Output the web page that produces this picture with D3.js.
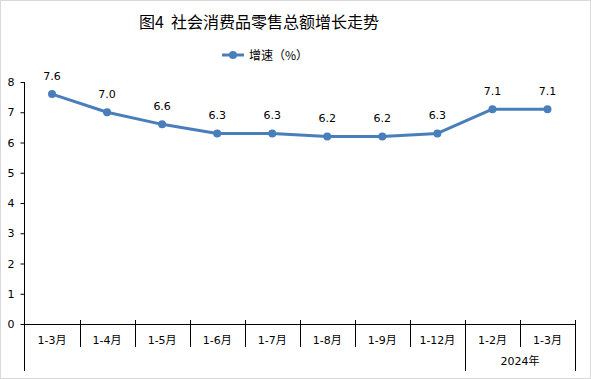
<!DOCTYPE html>
<html>
<head>
<meta charset="utf-8">
<script src="https://cdn.jsdelivr.net/npm/d3@7"></script>
<style>
  body { margin: 0; background: #fff; }
  svg { display: block; }
  text { font-family: "DejaVu Sans", "Noto Sans CJK SC", sans-serif; fill: #000; }
  .cjk { font-family: "Noto Sans CJK SC", sans-serif; }
</style>
</head>
<body>
<svg width="591" height="379"></svg>
<script>
// Chart data
const months = ["1-3月", "1-4月", "1-5月", "1-6月", "1-7月", "1-8月", "1-9月", "1-12月", "1-2月", "1-3月"];
const growth = [7.6, 7.0, 6.6, 6.3, 6.3, 6.2, 6.2, 6.3, 7.1, 7.1];
const yTicks = [0, 1, 2, 3, 4, 5, 6, 7, 8];
const yearLabel = "2024年";
const yearStart = 8; // index where 2024 group begins
const title = "图4\u00a0\u00a0社会消费品零售总额增长走势";
const seriesName = "增速（%）";

const color = "#4a7ebb";
const svg = d3.select("svg");

// outer frame
svg.append("rect")
    .attr("x", 0.5).attr("y", 0.5)
    .attr("width", 590).attr("height", 378)
    .attr("fill", "none").attr("stroke", "#d9d9d9");

const plotLeft = 24.5, plotRight = 575, plotTop = 82, plotBottom = 324;

const x = d3.scaleBand()
    .domain(d3.range(months.length))
    .range([plotLeft, plotRight])
    .padding(0);

const y = d3.scaleLinear()
    .domain([0, 8])
    .range([plotBottom, plotTop]);

// title
svg.append("text")
    .attr("class", "cjk")
    .attr("x", 259).attr("y", 28)
    .attr("text-anchor", "middle")
    .attr("font-size", 16)
    .text(title);

// legend
const lg = svg.append("g").attr("transform", "translate(222,55)");
lg.append("line").attr("x1", 0).attr("x2", 22)
    .attr("stroke", color).attr("stroke-width", 3);
lg.append("circle").attr("cx", 11).attr("r", 4).attr("fill", color);
lg.append("text")
    .attr("class", "cjk")
    .attr("x", 27).attr("y", 4.5)
    .attr("font-size", 12)
    .text(seriesName);

// y axis
const yAxis = d3.axisLeft(y).tickValues(yTicks).tickSize(4).tickPadding(6).tickFormat(d3.format("d"));
const yg = svg.append("g")
    .attr("transform", `translate(${plotLeft},0)`)
    .call(yAxis);
yg.select(".domain").remove();
yg.selectAll("line").attr("stroke", "#000");
yg.selectAll("text").attr("font-size", 11).attr("fill", "#000");

// left axis line, extends down to the group row
svg.append("line")
    .attr("x1", plotLeft).attr("x2", plotLeft)
    .attr("y1", plotTop).attr("y2", 371)
    .attr("stroke", "#000");

// x axis line
svg.append("line")
    .attr("x1", plotLeft).attr("x2", plotRight)
    .attr("y1", plotBottom + 0.5).attr("y2", plotBottom + 0.5)
    .attr("stroke", "#000");

// category separators
const seps = d3.range(1, months.length + 1);
svg.selectAll(".sep")
    .data(seps)
    .join("line")
    .attr("class", "sep")
    .attr("x1", d => Math.round(x(d - 1) + x.bandwidth()) + 0.5)
    .attr("x2", d => Math.round(x(d - 1) + x.bandwidth()) + 0.5)
    .attr("y1", 320)
    .attr("y2", d => (d === yearStart || d === months.length) ? 371 : 347)
    .attr("stroke", "#000");

// category labels
svg.selectAll(".cat")
    .data(months)
    .join("text")
    .attr("class", "cat")
    .attr("x", (d, i) => x(i) + x.bandwidth() / 2)
    .attr("y", 344)
    .attr("text-anchor", "middle")
    .attr("font-size", 11)
    .text(d => d);

svg.append("text")
    .attr("x", (x(yearStart) + plotRight) / 2)
    .attr("y", 365)
    .attr("text-anchor", "middle")
    .attr("font-size", 11)
    .text(yearLabel);

// line
const line = d3.line()
    .x((d, i) => x(i) + x.bandwidth() / 2)
    .y(d => y(d));

svg.append("path")
    .datum(growth)
    .attr("fill", "none")
    .attr("stroke", color)
    .attr("stroke-width", 3)
    .attr("stroke-linejoin", "round")
    .attr("d", line);

svg.selectAll(".pt")
    .data(growth)
    .join("circle")
    .attr("class", "pt")
    .attr("cx", (d, i) => x(i) + x.bandwidth() / 2)
    .attr("cy", d => y(d))
    .attr("r", 4)
    .attr("fill", color);

svg.selectAll(".val")
    .data(growth)
    .join("text")
    .attr("class", "val")
    .attr("x", (d, i) => x(i) + x.bandwidth() / 2)
    .attr("y", d => y(d) - 14)
    .attr("text-anchor", "middle")
    .attr("font-size", 11)
    .text(d => d.toFixed(1));
</script>
</body>
</html>
